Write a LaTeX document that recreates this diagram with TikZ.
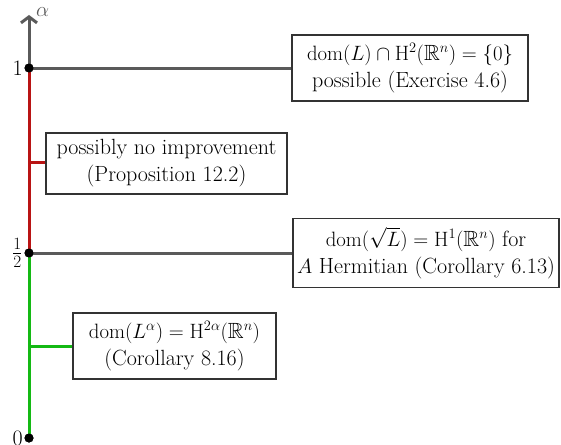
\documentclass[tikz,border=0pt]{standalone}
\usepackage{amsmath,amssymb}
\usetikzlibrary{arrows.meta}
\definecolor{axgray}{RGB}{90,90,90}
\definecolor{axred}{RGB}{185,20,20}
\definecolor{axgreen}{RGB}{20,185,20}
\tikzset{
  infobox/.style={draw=black!80, line width=1.2pt, fill=white, align=center, inner sep=0pt,
    font=\fontsize{22}{27}\selectfont},
  seg/.style={line width=3pt},
  dotmark/.style={circle, fill=black, inner sep=0pt, minimum size=9pt},
  ticklab/.style={font=\fontsize{22}{26}\selectfont, anchor=east, inner sep=1.5pt},
}
\begin{document}
\begin{tikzpicture}[x=1pt,y=-1pt]
\useasboundingbox (0,0) rectangle (561,444);
\coordinate (top) at (29,15);
\node[dotmark] (p1) at (29,68) {};
\node[dotmark] (ph) at (29,253) {};
\node[dotmark] (p0) at (29,438) {};
\coordinate (cr) at (29,162);
\coordinate (cg) at (29,346);
% boxes
\node[infobox, minimum width=236pt, minimum height=66pt] (b1) at (410,68)
  {$\mathrm{dom}(L)\cap\mathrm{H}^2(\mathbb{R}^{n})=\{0\}$\\possible (Exercise 4.6)};
\node[infobox, minimum width=241pt, minimum height=61pt] (b2) at (166.5,163.5)
  {possibly no improvement\\(Proposition 12.2)};
\node[infobox, minimum width=266pt, minimum height=69pt] (b3) at (426,253)
  {$\mathrm{dom}(\sqrt{L})=\mathrm{H}^1(\mathbb{R}^{n})$ for\\$A$ Hermitian (Corollary 6.13)};
\node[infobox, minimum width=203pt, minimum height=66pt] (b4) at (174.5,346)
  {$\mathrm{dom}(L^{\alpha})=\mathrm{H}^{2\alpha}(\mathbb{R}^{n})$\\(Corollary 8.16)};
% axis
\draw[seg, axgray, -{Straight Barb[length=6pt,width=16pt]}] (p1.center) -- (top);
\draw[seg, axred] (p1.center) -- (ph.center);
\draw[seg, axgreen] (ph.center) -- (p0.center);
% connectors
\draw[seg, axgray] (p1.center) -- (b1.west);
\draw[seg, axred] (cr) -- (cr -| b2.west);
\draw[seg, axgray] (ph.center) -- (b3.west);
\draw[seg, axgreen] (cg) -- (cg -| b4.west);
% dots on top
\fill (p1.center) circle (4.5pt);
\fill (ph.center) circle (4.5pt);
\fill (p0.center) circle (4.5pt);
% labels
\node[font=\fontsize{20}{24}\selectfont, text=axgray, anchor=west, inner sep=0pt] (al) at (36,12) {$\alpha$};
\node[ticklab] (l1) at (p1.west) {1};
\node[ticklab, font=\fontsize{23}{28}\selectfont] (lh) at (ph.west) {$\frac{1}{2}$};
\node[ticklab] (l0) at (p0.west) {0};
\end{tikzpicture}
\end{document}
